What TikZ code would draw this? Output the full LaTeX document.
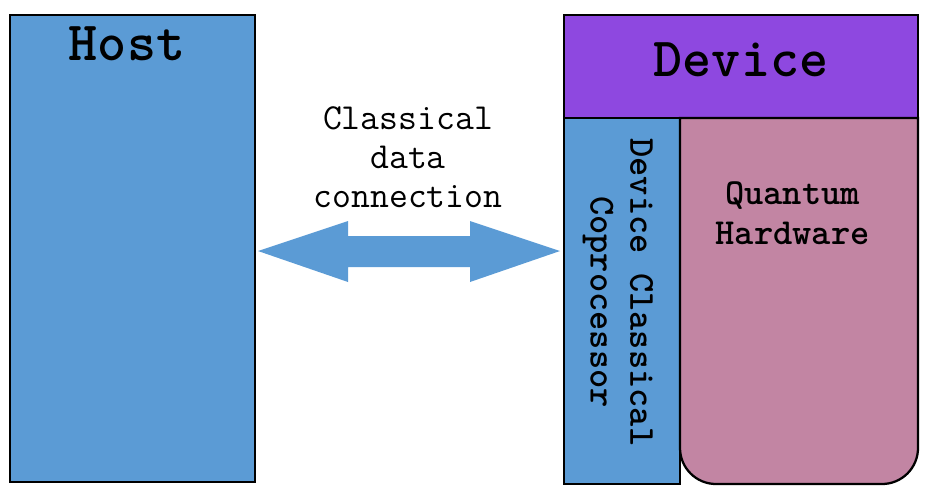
\documentclass[tikz,border=0pt]{standalone}
\usetikzlibrary{calc}
\definecolor{hostblue}{HTML}{5B9BD5}
\definecolor{devpurple}{HTML}{8E48E0}
\definecolor{qpink}{HTML}{C285A3}
\begin{document}
\begin{tikzpicture}[x=0.75pt,y=-0.75pt,
  box/.style={draw=black, line width=1.7pt, inner sep=0pt, outer sep=0pt},
  bigtxt/.style={font=\fontsize{41.5}{44}\selectfont\ttfamily\bfseries},
  midtxt/.style={font=\fontsize{27.5}{29.8}\selectfont\ttfamily\bfseries, align=center, inner sep=0pt},
  thintxt/.style={font=\fontsize{27.5}{29.3}\selectfont\ttfamily, align=center, inner sep=0pt}]
\useasboundingbox (0,0) rectangle (930,494);
% Host
\node[box, line width=2pt, fill=hostblue, minimum width=183.75pt, minimum height=350.25pt] (host) at (132.5,248.5) {};
\node[bigtxt, anchor=base] (hostlbl) at (127,60) {Host};
% Device header
\node[box, fill=devpurple, minimum width=265.5pt, minimum height=77.25pt] (device) at (741,66.5) {};
\node[bigtxt, anchor=base] (devlbl) at (741,76) {Device};
% Coprocessor
\node[box, fill=hostblue, minimum width=87pt, minimum height=274.5pt] (coproc) at (622,301) {};
\node[midtxt, rotate=-90] (coproclbl) at (618,302) {Device Classical\hphantom{x}\\Coprocessor};
% Quantum hardware
\node[inner sep=0pt, outer sep=0pt, minimum width=178.5pt, minimum height=274.5pt] (quantum) at (799,301) {};
\draw[fill=qpink, line width=1.7pt] (quantum.east) [rounded corners=27pt] -- (quantum.south east) -- (quantum.south west) -- (quantum.west) [sharp corners] -- (quantum.north west) -- (quantum.north east) -- cycle;
\node[midtxt] (qlbl) at (792.5,213) {Quantum\\Hardware};
% Connection label
\node[thintxt] (connlbl) at (408,157) {Classical\\data\\connection};
% Double arrow
\coordinate (aL) at ($(host.east)+(3,2.5)$);
\coordinate (aR) at ($(aL -| coproc.west)+(-4,0)$);
\fill[hostblue] (aL) -- ++(90,-30) -- ++(0,15) -- ($(aR)+(-90,-15)$) -- ++(0,-15) -- (aR)
  -- ++(-90,31) -- ++(0,-15) -- ($(aL)+(90,16)$) -- ++(0,15) -- cycle;
\end{tikzpicture}
\end{document}
